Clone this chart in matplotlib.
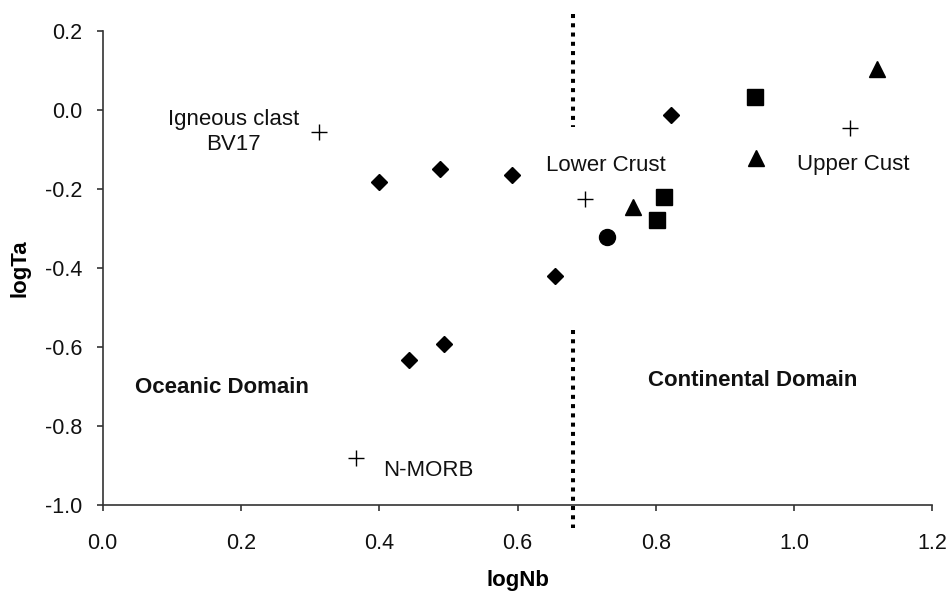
import matplotlib.pyplot as plt

plt.rcParams['font.family'] = ['Liberation Sans', 'DejaVu Sans']

# Sample groups (logNb, logTa)
diamond_nb = [0.399, 0.488, 0.592, 0.654, 0.443, 0.494, 0.822]
diamond_ta = [-0.182, -0.150, -0.165, -0.421, -0.632, -0.592, -0.014]

square_nb = [0.812, 0.801, 0.943]
square_ta = [-0.220, -0.279, 0.033]

triangle_nb = [0.767, 0.945, 1.120]
triangle_ta = [-0.247, -0.121, 0.102]

circle_nb = [0.729]
circle_ta = [-0.322]

# Reference compositions
ref_names = ["Igneous clast\nBV17", "Lower Crust", "Upper Cust", "N-MORB"]
ref_nb = [0.313, 0.698, 1.080, 0.367]
ref_ta = [-0.057, -0.225, -0.045, -0.881]
ref_label_nb = [0.189, 0.728, 1.085, 0.471]
ref_label_ta = [-0.056, -0.142, -0.138, -0.912]

# Domain boundary
boundary_nb = 0.68
boundary_upper = [0.242, -0.044]
boundary_lower = [-0.558, -1.057]

fig = plt.figure(figsize=(9.52, 5.91), dpi=100)
ax = fig.add_axes([0.1079, 0.1455, 0.8716, 0.8025])

ax.plot(diamond_nb, diamond_ta, 'D', color='black', ms=8.6, mew=1, clip_on=False)
ax.plot(square_nb, square_ta, 's', color='black', ms=11.5, mew=1, clip_on=False)
ax.plot(triangle_nb, triangle_ta, '^', color='black', ms=11.5, mew=1, clip_on=False)
ax.plot(circle_nb, circle_ta, 'o', color='black', ms=11.5, mew=1, clip_on=False)
ax.plot(ref_nb, ref_ta, '+', color='black', ms=11, mew=1, clip_on=False)

for name, x, y in zip(ref_names, ref_label_nb, ref_label_ta):
    ax.text(x, y, name, ha='center', va='center', fontsize=16,
            color='#111111', linespacing=1.3)

ax.plot([boundary_nb, boundary_nb], boundary_upper, color='black', lw=2.9,
        linestyle=(0, (1, 1.3)), dash_capstyle='butt', clip_on=False)
ax.plot([boundary_nb, boundary_nb], boundary_lower, color='black', lw=2.9,
        linestyle=(0, (1, 1.3)), dash_capstyle='butt', clip_on=False)

ax.text(0.173, -0.703, "Oceanic Domain", ha='center', va='center',
        fontsize=16, fontweight='bold', color='#111111')
ax.text(0.940, -0.684, "Continental Domain", ha='center', va='center',
        fontsize=16, fontweight='bold', color='#111111')

ax.set_xlim(0, 1.2)
ax.set_ylim(-1.0, 0.2)
ax.set_xticks([0.0, 0.2, 0.4, 0.6, 0.8, 1.0, 1.2])
ax.set_yticks([-1.0, -0.8, -0.6, -0.4, -0.2, 0.0, 0.2])
ax.xaxis.set_major_formatter(plt.FormatStrFormatter('%.1f'))
ax.yaxis.set_major_formatter(plt.FormatStrFormatter('%.1f'))

for side in ['top', 'right']:
    ax.spines[side].set_visible(False)
for side in ['left', 'bottom']:
    ax.spines[side].set_color('#333333')
    ax.spines[side].set_linewidth(1.2)

ax.tick_params(direction='out', length=4, width=1.2, color='#333333',
               labelsize=15.5, labelcolor='#111111')
ax.tick_params(axis='x', pad=16)
ax.tick_params(axis='y', pad=11)

ax.set_xlabel("logNb", fontsize=16, fontweight='bold', labelpad=12)
ax.set_ylabel("logTa", fontsize=16, fontweight='bold', labelpad=10)

fig.savefig("out.png", dpi=100)
